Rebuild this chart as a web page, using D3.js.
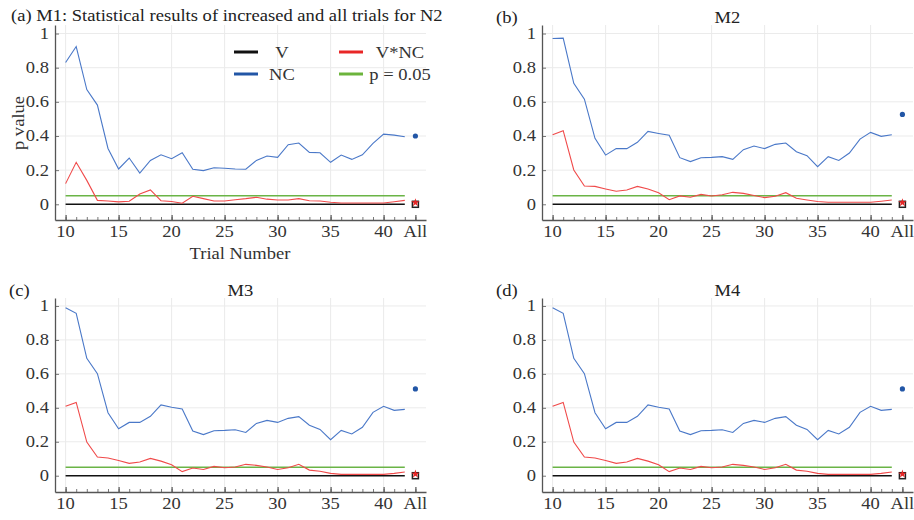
<!DOCTYPE html>
<html><head><meta charset="utf-8">
<script src="https://cdn.jsdelivr.net/npm/d3@7"></script>
<style>
body{margin:0;background:#fff;}
svg{display:block;font-family:"Liberation Serif","Times New Roman",serif;}
</style>
</head><body><svg id="chart" width="914" height="520"></svg>
<script>
// ---- data ----
const trials = [10,11,12,13,14,15,16,17,18,19,20,21,22,23,24,25,26,27,28,29,30,31,32,33,34,35,36,37,38,39,40,41,42];
const allPos = 43;
const allLabel = "All";
const xTickValues = [10,15,20,25,30,35,40];
const yTickValues = [0,0.2,0.4,0.6,0.8,1];
const yTickLabels = ["0","0.2","0.4","0.6","0.8","1"];
const pThreshold = 0.05;

const panelLetters = ["(a)","(b)","(c)","(d)"];
const panelTitles = ["(a) M1: Statistical results of increased and all trials for N2","M2","M3","M4"];

const m1V   = [0,0,0,0,0,0,0,0,0,0,0,0,0,0,0,0,0,0,0,0,0,0,0,0,0,0,0,0,0,0,0,0,0];
const m1NC  = [0.830,0.924,0.672,0.581,0.327,0.207,0.271,0.183,0.257,0.290,0.267,0.302,0.205,0.197,0.214,0.211,0.207,0.205,0.257,0.283,0.275,0.349,0.359,0.304,0.302,0.246,0.288,0.263,0.290,0.357,0.411,0.405,0.396];
const m1VNC = [0.121,0.246,0.140,0.023,0.019,0.014,0.018,0.060,0.084,0.021,0.016,0.006,0.047,0.033,0.019,0.019,0.027,0.033,0.041,0.030,0.025,0.025,0.033,0.021,0.019,0.012,0.008,0.008,0.008,0.008,0.008,0.015,0.023];

const m2V   = [0,0,0,0,0,0,0,0,0,0,0,0,0,0,0,0,0,0,0,0,0,0,0,0,0,0,0,0,0,0,0,0,0];
const m2NC  = [0.971,0.973,0.708,0.616,0.386,0.288,0.327,0.326,0.363,0.427,0.415,0.404,0.273,0.250,0.273,0.275,0.279,0.263,0.320,0.341,0.326,0.351,0.359,0.308,0.285,0.220,0.279,0.257,0.300,0.382,0.421,0.398,0.407];
const m2VNC = [0.407,0.431,0.201,0.107,0.105,0.090,0.076,0.084,0.105,0.090,0.068,0.027,0.049,0.041,0.058,0.049,0.056,0.070,0.064,0.051,0.039,0.047,0.068,0.035,0.025,0.016,0.012,0.012,0.012,0.012,0.012,0.018,0.025];

const m3V   = [0,0,0,0,0,0,0,0,0,0,0,0,0,0,0,0,0,0,0,0,0,0,0,0,0,0,0,0,0,0,0,0,0];
const m3NC  = [0.990,0.957,0.692,0.601,0.371,0.277,0.314,0.314,0.350,0.417,0.403,0.393,0.263,0.242,0.265,0.267,0.271,0.255,0.308,0.326,0.314,0.338,0.348,0.297,0.273,0.212,0.267,0.246,0.285,0.373,0.409,0.385,0.391];
const m3VNC = [0.409,0.432,0.198,0.110,0.104,0.090,0.073,0.081,0.102,0.086,0.065,0.024,0.045,0.037,0.055,0.047,0.051,0.067,0.061,0.051,0.037,0.047,0.067,0.033,0.026,0.014,0.008,0.008,0.008,0.008,0.008,0.014,0.022];

const m4V   = [0,0,0,0,0,0,0,0,0,0,0,0,0,0,0,0,0,0,0,0,0,0,0,0,0,0,0,0,0,0,0,0,0];
const m4NC  = [0.990,0.957,0.692,0.601,0.371,0.277,0.314,0.314,0.350,0.417,0.403,0.393,0.263,0.242,0.265,0.267,0.271,0.255,0.308,0.326,0.314,0.338,0.348,0.297,0.273,0.212,0.267,0.246,0.285,0.373,0.409,0.385,0.391];
const m4VNC = [0.409,0.432,0.198,0.110,0.104,0.090,0.073,0.081,0.102,0.086,0.065,0.024,0.045,0.037,0.055,0.047,0.051,0.067,0.061,0.051,0.037,0.047,0.067,0.033,0.026,0.014,0.008,0.008,0.008,0.008,0.008,0.014,0.022];

const allV   = [0, 0, 0, 0];
const allNC  = [0.400, 0.526, 0.511, 0.511];
const allVNC = [0.010, 0.010, 0.010, 0.010];

const legendLabels = ["V","NC","V*NC","p = 0.05"];

// ---- styling ----
const C = {
  V: "#111111", NC: "#4a78c8", VNC: "#f04a4a", P: "#6ab446",
  legV: "#111111", legNC: "#2256a6", legVNC: "#e82626", legP: "#6cb43c",
  grid: "#ebebeb", axis: "#555555", text: "#333333", dotNC: "#2256a6", dotVNC: "#e82626"
};
const FS = 16.5;

const svg = d3.select("#chart");

// horizontal stretch factor of text (reference text is slightly wide)
const probe = svg.append("text").attr("font-size", FS).text(panelTitles[0]);
const sx = 432 / probe.node().getComputedTextLength();
probe.remove();

function txt(g, x, y, s, anchor, opts) {
  opts = opts || {};
  return g.append("text")
    .attr("transform", `translate(${x},${y})${opts.rotate ? " rotate(" + opts.rotate + ")" : ""} scale(${sx},1)`)
    .attr("text-anchor", anchor || "start")
    .attr("font-size", opts.size || FS)
    .attr("fill", opts.fill || C.text)
    .text(s);
}

const panels = [
  {x0:55,  x1:426, y0:220, y1:25,  ydom:[-0.092,1.05],  V:m1V, NC:m1NC, VNC:m1VNC, titleY:20.5},
  {x0:542, x1:913, y0:220, y1:25,  ydom:[-0.092,1.05],  V:m2V, NC:m2NC, VNC:m2VNC, titleY:23},
  {x0:55,  x1:426, y0:492, y1:298, ydom:[-0.096,1.047], V:m3V, NC:m3NC, VNC:m3VNC, titleY:296},
  {x0:542, x1:913, y0:492, y1:298, ydom:[-0.096,1.047], V:m4V, NC:m4NC, VNC:m4VNC, titleY:296}
];

panels.forEach((p, i) => {
  const g = svg.append("g");
  const x = d3.scaleLinear().domain([9, 44]).range([p.x0, p.x1]);
  const y = d3.scaleLinear().domain(p.ydom).range([p.y0, p.y1]);

  // grid
  g.append("g").selectAll("line").data(yTickValues.filter(v => v > 0)).join("line")
    .attr("x1", p.x0).attr("x2", p.x1).attr("y1", d => y(d)).attr("y2", d => y(d))
    .attr("stroke", C.grid).attr("stroke-width", 1);
  g.append("g").selectAll("line").data(xTickValues).join("line")
    .attr("x1", d => x(d)).attr("x2", d => x(d)).attr("y1", p.y0).attr("y2", p.y1)
    .attr("stroke", C.grid).attr("stroke-width", 1);

  // axes
  const xAxisMinor = d3.axisBottom(x).tickValues(trials.concat([allPos])).tickSize(-3).tickFormat("");
  const gxm = g.append("g").attr("transform", `translate(0,${p.y0})`).call(xAxisMinor);
  gxm.select(".domain").remove();
  gxm.selectAll(".tick line").attr("stroke", C.axis).attr("stroke-width", 0.8);
  const xAxisMajor = d3.axisBottom(x).tickValues(xTickValues.concat([allPos])).tickSizeInner(-5).tickSizeOuter(0).tickFormat("");
  const gx = g.append("g").attr("transform", `translate(0,${p.y0})`).call(xAxisMajor);
  gx.select(".domain").attr("stroke", C.axis).attr("stroke-width", 1.3);
  gx.selectAll(".tick line").attr("stroke", C.axis).attr("stroke-width", 1.2);
  xTickValues.forEach(v => txt(g, x(v), p.y0 + 17, String(v), "middle"));
  txt(g, x(allPos), p.y0 + 17, allLabel, "middle");

  const yAxis = d3.axisLeft(y).tickValues(yTickValues).tickSizeInner(-4).tickSizeOuter(0).tickFormat("");
  const gy = g.append("g").attr("transform", `translate(${p.x0},0)`).call(yAxis);
  gy.select(".domain").attr("stroke", C.axis).attr("stroke-width", 1.3);
  gy.selectAll(".tick line").attr("stroke", C.axis).attr("stroke-width", 0.8);
  yTickValues.forEach((v, k) => txt(g, p.x0 - 6, y(v) + 5.5, yTickLabels[k], "end"));

  // lines
  const line = d3.line().x((d, k) => x(trials[k])).y(d => y(d));
  g.append("path").datum(trials.map(() => pThreshold)).attr("d", line)
    .attr("fill", "none").attr("stroke", C.P).attr("stroke-width", 1.5);
  g.append("path").datum(p.V).attr("d", line)
    .attr("fill", "none").attr("stroke", C.V).attr("stroke-width", 1.5);
  g.append("path").datum(p.VNC).attr("d", line)
    .attr("fill", "none").attr("stroke", C.VNC).attr("stroke-width", 1.1);
  g.append("path").datum(p.NC).attr("d", line)
    .attr("fill", "none").attr("stroke", C.NC).attr("stroke-width", 1.1);

  // "All" markers
  const ax = x(allPos);
  g.append("rect").attr("x", ax - 3).attr("y", y(allV[i]) - 3).attr("width", 6).attr("height", 6)
    .attr("fill", "#fff").attr("stroke", "#222").attr("stroke-width", 1.5);
  g.append("path").attr("d", d3.symbol(d3.symbolStar, 22)())
    .attr("transform", `translate(${ax},${y(allVNC[i])})`).attr("fill", C.dotVNC);
  g.append("circle").attr("cx", ax).attr("cy", y(allNC[i])).attr("r", 2.6).attr("fill", C.dotNC);

  // titles
  if (i === 0) {
    txt(svg, 11, p.titleY, panelTitles[0], "start", {fill: "#222"});
  } else {
    txt(svg, p.x0 - 46, p.titleY, panelLetters[i], "start", {fill: "#222"});
    txt(svg, (p.x0 + p.x1) / 2, p.titleY, panelTitles[i], "middle", {fill: "#222"});
  }

  if (i === 0) {
    txt(svg, (p.x0 + p.x1) / 2 - 0.5, 259, "Trial Number", "middle");
    txt(svg, 24, 123, "p value", "middle", {rotate: -90});
    // legend
    const leg = [
      {lx: 234, cx: 282, y: 52, c: C.legV,   s: legendLabels[0]},
      {lx: 234, cx: 282, y: 74, c: C.legNC,  s: legendLabels[1]},
      {lx: 339, cx: 400, y: 52, c: C.legVNC, s: legendLabels[2]},
      {lx: 339, cx: 400, y: 74, c: C.legP,   s: legendLabels[3]}
    ];
    leg.forEach(L => {
      svg.append("line").attr("x1", L.lx).attr("x2", L.lx + 24).attr("y1", L.y).attr("y2", L.y)
        .attr("stroke", L.c).attr("stroke-width", 3);
      txt(svg, L.cx, L.y + 6, L.s, "middle");
    });
  }
});
</script>
</body></html>
